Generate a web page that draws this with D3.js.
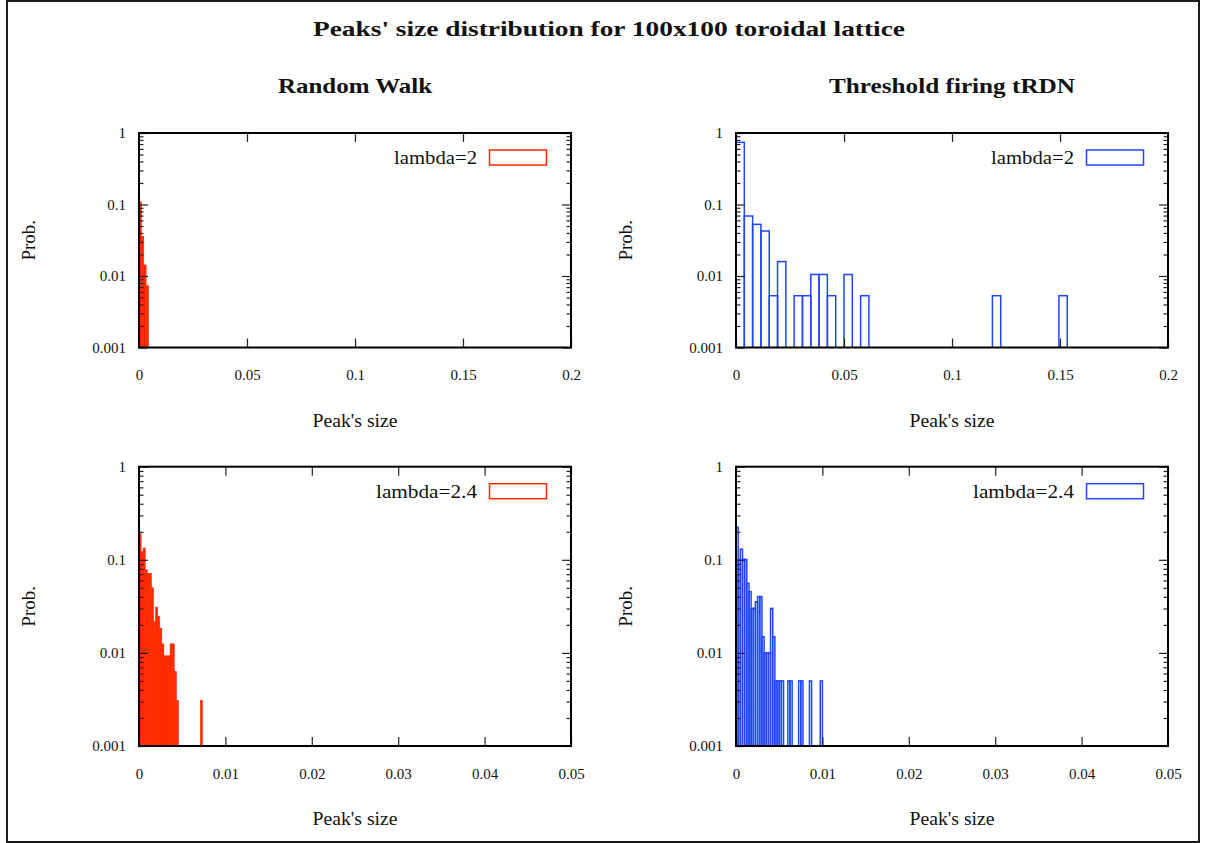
<!DOCTYPE html>
<html>
<head>
<meta charset="utf-8">
<script src="https://cdn.jsdelivr.net/npm/d3@7"></script>
<style>
  body { margin: 0; background: #fff; }
  svg { display: block; }
  text { font-family: "Liberation Serif", "DejaVu Serif", serif; fill: #111; }
</style>
</head>
<body>
<svg id="chart" width="1208" height="843"></svg>
<script>
// ---- Text ----
const chartTitle = "Peaks' size distribution for 100x100 toroidal lattice";
const columnTitles = ["Random Walk", "Threshold firing tRDN"];
const rowLegends = ["lambda=2", "lambda=2.4"];
const xLabel = "Peak's size";
const yLabel = "Prob.";

// ---- Tick values ----
const yTickValues = [1, 0.1, 0.01, 0.001];
const xTicksWide = [0, 0.05, 0.1, 0.15, 0.2];
const xTicksNarrow = [0, 0.01, 0.02, 0.03, 0.04, 0.05];

// ---- Random Walk, lambda=2 (bin start, probability) ----
const rw2Size = [0, 0.0011, 0.0022, 0.0033];
const rw2Prob = [0.109, 0.0355, 0.0143, 0.0073];
const rw2Bin = 0.0011;

// ---- Threshold firing tRDN, lambda=2 ----
const tr2Size = [0, 0.00385, 0.00769, 0.01154, 0.01538, 0.01923, 0.02692, 0.03077,
                 0.03462, 0.03846, 0.04231, 0.05, 0.05769, 0.1187, 0.1495];
const tr2Prob = [0.74, 0.069, 0.0528, 0.0426, 0.0053, 0.0159, 0.0053, 0.0053,
                 0.0105, 0.0105, 0.0053, 0.0105, 0.0053, 0.0053, 0.0053];
const tr2Bin = 0.00385;

// ---- Random Walk, lambda=2.4 ----
const rw24Size = [0, 0.00024, 0.00048, 0.00072, 0.00096, 0.0012, 0.00144, 0.00168,
                  0.00192, 0.00216, 0.0024, 0.00264, 0.00288, 0.00312, 0.00336,
                  0.0036, 0.00384, 0.00408, 0.00432, 0.0071];
const rw24Prob = [0.193, 0.122, 0.134, 0.078, 0.0716, 0.0716, 0.05, 0.0217,
                  0.031, 0.0245, 0.0184, 0.0125, 0.0093, 0.0093, 0.0093,
                  0.0125, 0.0125, 0.0063, 0.0031, 0.0031];
const rw24Bin = 0.00024;

// ---- Threshold firing tRDN, lambda=2.4 ----
const tr24Size = [0, 0.00025, 0.0005, 0.00075, 0.001, 0.00125, 0.0015, 0.00175,
                  0.002, 0.00225, 0.0025, 0.00275, 0.003, 0.00325, 0.0035, 0.00375,
                  0.004, 0.00425, 0.0045, 0.00475, 0.005, 0.00525,
                  0.006, 0.00625, 0.00725, 0.0075, 0.0085, 0.00975];
const tr24Prob = [0.223, 0.101, 0.130, 0.101, 0.101, 0.0559, 0.0454, 0.0301,
                  0.0301, 0.0355, 0.0402, 0.0402, 0.0149, 0.0100, 0.0100, 0.0100,
                  0.0301, 0.0149, 0.0050, 0.0050, 0.0050, 0.0050,
                  0.0050, 0.0050, 0.0050, 0.0050, 0.0050, 0.0050];
const tr24Bin = 0.00025;

// ---- Styling ----
const RED = "#ff2a00";
const BLUE = "#1f45ff";
const plotW = 432;

const panels = [
  { x: 139, y: 133,   h: 214.5, xMax: 0.2,  xt: xTicksWide,   size: rw2Size,  prob: rw2Prob,  bin: rw2Bin,  color: RED,  filled: true,  legend: rowLegends[0], legendW: 83 },
  { x: 736, y: 133,   h: 214.5, xMax: 0.2,  xt: xTicksWide,   size: tr2Size,  prob: tr2Prob,  bin: tr2Bin,  color: BLUE, filled: false, legend: rowLegends[0], legendW: 83 },
  { x: 139, y: 466.7, h: 279.3, xMax: 0.05, xt: xTicksNarrow, size: rw24Size, prob: rw24Prob, bin: rw24Bin, color: RED,  filled: true,  legend: rowLegends[1], legendW: 101 },
  { x: 736, y: 466.7, h: 279.3, xMax: 0.05, xt: xTicksNarrow, size: tr24Size, prob: tr24Prob, bin: tr24Bin, color: BLUE, filled: false, legend: rowLegends[1], legendW: 101 }
];

const svg = d3.select("#chart");
svg.append("rect").attr("width", 1208).attr("height", 843).attr("fill", "#fff");

// the serif face used here is narrower than the intended one, so wide
// labels are given an explicit rendered length
const fitText = (sel, w) => sel.attr("textLength", w).attr("lengthAdjust", "spacingAndGlyphs");

// outer frame
svg.append("rect")
  .attr("x", 7).attr("y", 1).attr("width", 1192).attr("height", 841)
  .attr("fill", "none").attr("stroke", "#1a1a1a").attr("stroke-width", 2);

svg.append("text")
  .attr("x", 609).attr("y", 36)
  .attr("text-anchor", "middle")
  .attr("font-size", 21).attr("font-weight", "bold")
  .text(chartTitle)
  .call(fitText, 592);

const colCenters = [355, 952];
const colTitleW = [154, 246];
colCenters.forEach((cx, i) => {
  svg.append("text")
    .attr("x", cx).attr("y", 93)
    .attr("text-anchor", "middle")
    .attr("font-size", 21).attr("font-weight", "bold")
    .text(columnTitles[i])
    .call(fitText, colTitleW[i]);
});

// minor tick positions for a log axis
const minorTicks = [];
[0.001, 0.01, 0.1].forEach(d => { for (let m = 2; m <= 9; m++) minorTicks.push(+(d * m).toPrecision(3)); });

panels.forEach(p => {
  const g = svg.append("g").attr("transform", `translate(${p.x},${p.y})`);
  const x = d3.scaleLinear().domain([0, p.xMax]).range([0, plotW]);
  const y = d3.scaleLog().domain([0.001, 1]).range([p.h, 0]);

  // bars
  const bars = p.size.map((s, i) => ({ s, v: p.prob[i] }));
  const clipId = "clip" + p.x + "_" + Math.round(p.y);
  g.append("clipPath").attr("id", clipId)
    .append("rect").attr("width", plotW).attr("height", p.h);
  g.append("g").attr("clip-path", `url(#${clipId})`)
    .selectAll("rect").data(bars).join("rect")
    .attr("x", d => x(d.s))
    .attr("width", d => x(d.s + p.bin) - x(d.s))
    .attr("y", d => y(d.v))
    .attr("height", d => y(0.001) - y(d.v) + 2)
    .attr("fill", p.filled ? p.color : "none")
    .attr("stroke", p.color)
    .attr("stroke-width", p.filled ? 0.6 : 1.5);

  const styleAxis = sel => {
    sel.select(".domain").remove();
    sel.selectAll(".tick line").attr("stroke", "#222").attr("stroke-width", 1.2);
    sel.selectAll(".tick text").attr("font-family", "Liberation Serif").attr("font-size", 15).attr("fill", "#111");
  };

  // left axis: major + minor
  g.append("g").call(d3.axisLeft(y).tickValues(yTickValues).tickSize(-9).tickPadding(13).tickFormat(d => String(d))).call(styleAxis);
  g.append("g").call(d3.axisLeft(y).tickValues(minorTicks).tickSize(-4.5).tickFormat("")).call(styleAxis);
  // right mirror
  g.append("g").attr("transform", `translate(${plotW},0)`)
    .call(d3.axisRight(y).tickValues(yTickValues).tickSize(-9).tickFormat("")).call(styleAxis);
  g.append("g").attr("transform", `translate(${plotW},0)`)
    .call(d3.axisRight(y).tickValues(minorTicks).tickSize(-4.5).tickFormat("")).call(styleAxis);
  // bottom axis
  g.append("g").attr("transform", `translate(0,${p.h})`)
    .call(d3.axisBottom(x).tickValues(p.xt).tickSize(-9).tickPadding(22).tickFormat(d => String(d))).call(styleAxis);
  // top mirror
  g.append("g")
    .call(d3.axisTop(x).tickValues(p.xt).tickSize(-9).tickFormat("")).call(styleAxis);

  // frame
  g.append("rect").attr("width", plotW).attr("height", p.h)
    .attr("fill", "none").attr("stroke", "#000").attr("stroke-width", 2);

  // axis titles
  g.append("text")
    .attr("x", plotW / 2).attr("y", p.h + 79)
    .attr("text-anchor", "middle").attr("font-size", 19)
    .text(xLabel)
    .call(fitText, 85);
  g.append("text")
    .attr("transform", `translate(-104,${p.h / 2}) rotate(-90)`)
    .attr("text-anchor", "middle").attr("font-size", 19)
    .text(yLabel);

  // legend
  const ly = 24.5;
  g.append("text")
    .attr("x", 338).attr("y", ly).attr("dy", "0.35em")
    .attr("text-anchor", "end").attr("font-size", 19)
    .text(p.legend)
    .call(fitText, p.legendW);
  g.append("rect")
    .attr("x", 350.5).attr("y", ly - 7.5).attr("width", 57).attr("height", 15)
    .attr("fill", "none").attr("stroke", p.color).attr("stroke-width", 1.5);
});
</script>
</body>
</html>
